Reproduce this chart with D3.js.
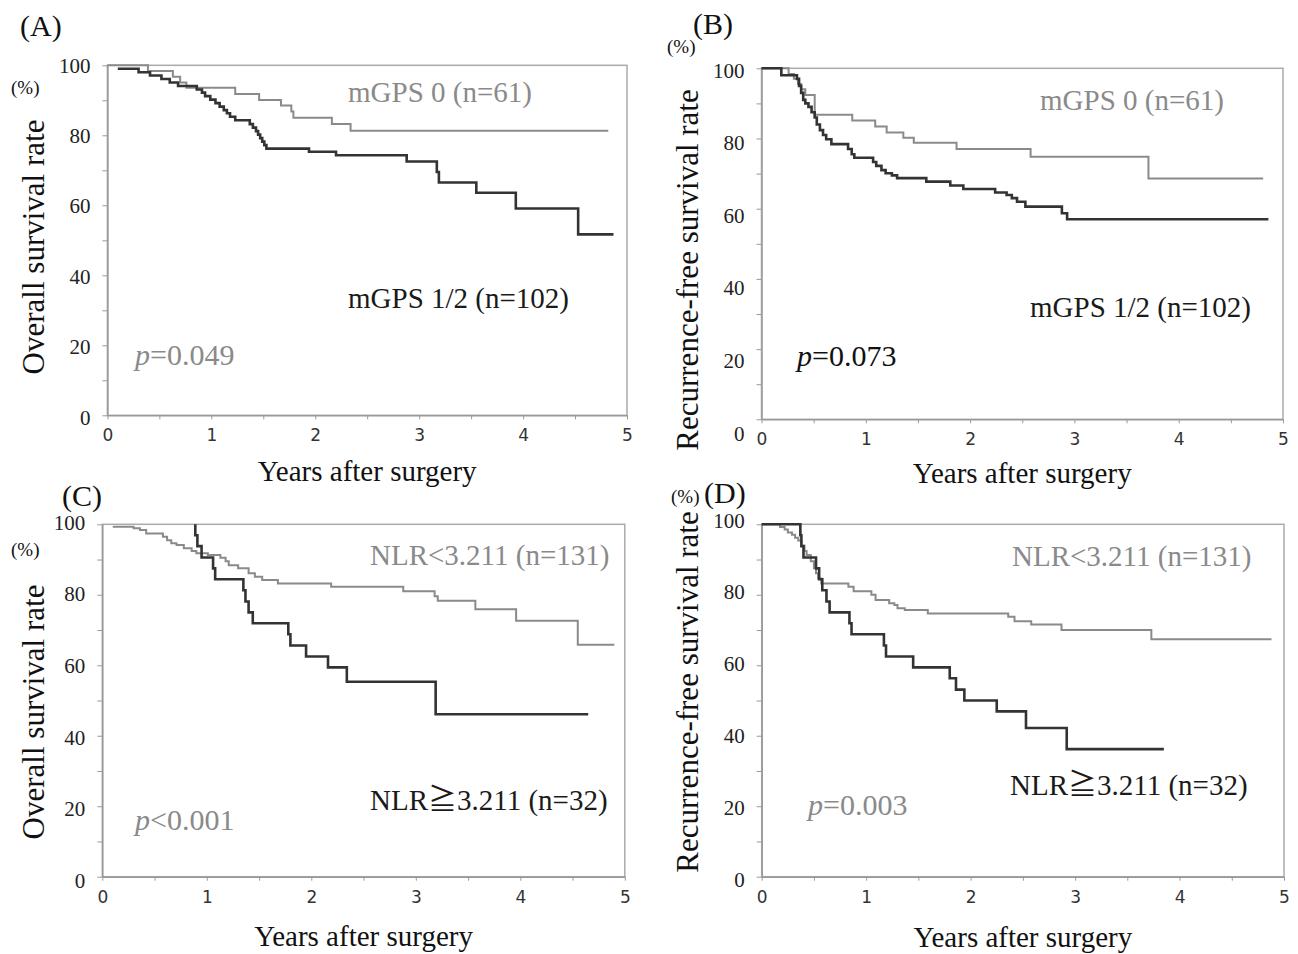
<!DOCTYPE html>
<html>
<head lang="en">
    <meta charset="UTF-8">
    <title></title>
    <script src="https://cdn.jsdelivr.net/npm/d3@7"></script>
    <style>
        *{
            margin: 0;
            padding: 0;
        }
        body{background:#fff;}
    </style>
</head>
<body>
<div id="mychart" style="width:1298px;height:954px;position:fixed;left:0;top:0"></div>
<script>
    // (A) overall survival, mGPS 0 / mGPS 1/2
    var aTime0=[0,0.39,0.63,0.70,0.76,1.23,1.46,1.67,1.77,1.79,2.16,2.34];
    var aSurv0=[100,98.4,96.7,95.1,93.6,91.8,90.1,88.5,86.8,85.0,83.2,81.3];
    var aTime1=[0.10,0.30,0.41,0.52,0.60,0.68,0.86,0.91,0.94,0.99,1.04,1.08,1.12,1.15,1.18,1.23,1.37,1.40,1.43,1.45,1.47,1.49,1.51,1.53,1.94,2.20,2.88,3.17,3.19,3.55,3.93,4.53];
    var aSurv1=[99.0,98.0,97.1,96.1,95.1,94.1,93.1,92.2,91.2,90.2,89.2,88.2,87.2,86.3,85.3,84.3,83.2,82.2,81.2,80.2,79.2,78.2,77.2,76.2,75.3,74.3,72.5,69.5,66.5,63.6,59.1,51.7];
    var aEnd=[4.82,4.87];
    // (B) recurrence-free survival, mGPS
    var bTime0=[0,0.26,0.31,0.35,0.38,0.42,0.51,0.87,1.09,1.20,1.36,1.46,1.87,2.58,3.71];
    var bSurv0=[100,98.4,97.0,95.5,94.0,92.4,86.8,85.1,83.4,81.7,80.2,78.8,77.0,74.8,68.6];
    var bTime1=[0,0.19,0.34,0.36,0.38,0.40,0.42,0.45,0.48,0.51,0.53,0.56,0.59,0.62,0.67,0.83,0.865,0.89,1.07,1.10,1.15,1.19,1.25,1.30,1.58,1.81,1.935,2.24,2.35,2.40,2.45,2.53,2.88,2.93];
    var bSurv1=[100,98.0,97.0,95.0,93.0,91.0,90.0,89.0,87.5,86.0,84.0,82.4,81.0,79.8,78.4,77.0,75.5,74.5,73.3,72.2,71.0,70.1,69.5,68.7,67.7,66.6,65.6,64.6,63.9,63.0,62.0,60.6,58.7,57.0];
    var bEnd=[4.81,4.86];
    // (C) overall survival, NLR
    var cTime0=[0.10,0.30,0.36,0.42,0.58,0.62,0.66,0.71,0.78,0.855,0.90,1.01,1.13,1.18,1.21,1.30,1.40,1.46,1.53,1.68,2.19,2.88,3.18,3.21,3.57,3.96,4.55];
    var cSurv0=[99.3,98.9,98.4,97.4,96.5,95.5,94.6,94.1,93.2,92.4,91.8,91.3,90.5,89.5,88.4,87.5,86.1,85.1,84.2,83.2,82.3,81.0,79.6,78.3,75.9,72.6,65.8];
    var cTime1=[0.89,0.89,0.91,0.95,1.06,1.08,1.35,1.37,1.40,1.44,1.78,1.80,1.95,2.16,2.34,3.19];
    var cSurv1=[100,96.9,93.8,90.6,87.5,84.4,81.3,78.1,75.0,71.9,68.8,65.6,62.5,59.4,55.3,46.1];
    var cEnd=[4.90,4.65];
    // (D) recurrence-free survival, NLR
    var dTime0=[0,0.175,0.22,0.25,0.29,0.32,0.35,0.38,0.41,0.43,0.47,0.50,0.52,0.54,0.57,0.83,0.88,1.05,1.09,1.22,1.27,1.30,1.37,1.59,2.36,2.42,2.58,2.87,3.73];
    var dSurv0=[100,99.2,98.5,97.7,97.0,96.2,95.4,93.9,92.4,91.3,89.5,87.5,86.1,84.6,83.2,82.3,81.0,80.0,78.5,77.6,77.1,76.2,75.7,74.7,73.8,72.5,71.6,70.0,67.4];
    var dTime1=[0,0.37,0.38,0.40,0.52,0.55,0.58,0.62,0.65,0.84,0.86,1.17,1.19,1.45,1.80,1.86,1.94,2.25,2.53,2.92];
    var dSurv1=[100,96.9,93.8,90.6,87.5,84.4,81.3,78.1,75.0,71.9,68.8,65.6,62.5,59.4,56.3,53.1,50.0,46.9,42.2,36.2];
    var dEnd=[4.88,3.85];

    var xTickLabels=[0,1,2,3,4,5];
    var yTickLabels=[0,20,40,60,80,100];

    var SERIF="'Liberation Serif','Times New Roman',serif";
    var GRAY="#8a8a8a", DARK="#333";

    var panels=[
        {tag:"(A)",tagX:20,tagY:36,pctX:11,pctY:94,
         x0:107.4,x5:627,y100:65.3,y0:415.3,yShift:[0,0.02],
         ylab:"Overall survival rate",ylabX:33,ylabY:247,xlabY:481,
         t0:aTime0,s0:aSurv0,t1:aTime1,s1:aSurv1,end:aEnd,
         lab0:"mGPS 0 (n=61)",lab0X:348,lab0Y:102,
         lab1:"mGPS 1/2 (n=102)",lab1X:348,lab1Y:308,
         p:"=0.049",pX:135,pY:365,pColor:GRAY},
        {tag:"(B)",tagX:693,tagY:34,pctX:667,pctY:53,
         x0:761.5,x5:1283,y100:68.3,y0:419.3,yShift:[2,0.12],
         ylab:"Recurrence-free survival rate",ylabX:687,ylabY:270,xlabY:483,
         t0:bTime0,s0:bSurv0,t1:bTime1,s1:bSurv1,end:bEnd,
         lab0:"mGPS 0 (n=61)",lab0X:1040,lab0Y:110,
         lab1:"mGPS 1/2 (n=102)",lab1X:1030,lab1Y:317,
         p:"=0.073",pX:797,pY:366,pColor:"#111"},
        {tag:"(C)",tagX:62,tagY:506,pctX:11,pctY:556,
         x0:102.3,x5:624.8,y100:524.3,y0:876.7,yShift:[-2,0.06],
         ylab:"Overall survival rate",ylabX:33,ylabY:712,xlabY:946,
         t0:cTime0,s0:cSurv0,t1:cTime1,s1:cSurv1,end:cEnd,
         lab0:"NLR<3.211 (n=131)",lab0X:370,lab0Y:565,
         lab1:"NLR\u22673.211 (n=32)",lab1X:370,lab1Y:810,
         p:"<0.001",pX:135,pY:830,pColor:GRAY},
        {tag:"(D)",tagX:704,tagY:503,pctX:671,pctY:503,
         x0:761.7,x5:1284,y100:524.3,y0:876.7,yShift:[-4,0.07],
         ylab:"Recurrence-free survival rate",ylabX:687,ylabY:692,xlabY:947,
         t0:dTime0,s0:dSurv0,t1:dTime1,s1:dSurv1,end:dEnd,
         lab0:"NLR<3.211 (n=131)",lab0X:1012,lab0Y:566,
         lab1:"NLR\u22673.211 (n=32)",lab1X:1010,lab1Y:795,
         p:"=0.003",pX:808,pY:815,pColor:GRAY}
    ];

    var _svg=d3.select("#mychart").append("svg")
            .attr("width",1298).attr("height",954)
            .style("background","#fff");

    panels.forEach(function(p){drawPanel(p);});

    function drawPanel(p){
        var g=_svg.append("g");
        var x=d3.scaleLinear().domain([0,5]).range([p.x0,p.x5]);
        var y=d3.scaleLinear().domain([0,100]).range([p.y0,p.y100]);

        //frame
        g.append("rect")
                .attr("x",p.x0).attr("y",p.y100)
                .attr("width",p.x5-p.x0).attr("height",p.y0-p.y100)
                .attr("fill","none").attr("stroke","#aaa").attr("stroke-width",1.5);

        //y axis, ticks every 10, labels every 20
        var yAxis=d3.axisLeft(y)
                .tickValues(d3.range(0,101,10))
                .tickSize(5).tickSizeOuter(0).tickPadding(12)
                .tickFormat(function(d){return yTickLabels.indexOf(d)>=0?d:"";});
        var gy=g.append("g").attr("transform","translate("+p.x0+",0)").call(yAxis);
        gy.select(".domain").attr("stroke","#999").attr("stroke-width",1.5);
        gy.selectAll("line").attr("stroke","#999");
        gy.selectAll("text").attr("fill","#222")
                .attr("transform",function(d){return "translate(0,"+(p.yShift[0]+p.yShift[1]*(100-d))+")";})
                .style("font-family",SERIF).style("font-size","21px");

        //x axis, ticks every half year
        var xAxis=d3.axisBottom(x)
                .tickValues(d3.range(0,5.01,0.5))
                .tickSize(4).tickSizeOuter(0).tickPadding(10)
                .tickFormat(function(d){return xTickLabels.indexOf(d)>=0?d:"";});
        var gx=g.append("g").attr("transform","translate(0,"+p.y0+")").call(xAxis);
        gx.select(".domain").attr("stroke","#999").attr("stroke-width",1.5);
        gx.selectAll("line").attr("stroke","#999");
        gx.selectAll("text").attr("fill","#333")
                .style("font-family","'DejaVu Sans',Verdana,sans-serif").style("font-size","17px");

        //step curves
        var line=d3.line()
                .x(function(d){return x(d[0]);})
                .y(function(d){return y(d[1]);})
                .curve(d3.curveStepAfter);
        var pts0=d3.zip(p.t0,p.s0); pts0.push([p.end[0],p.s0[p.s0.length-1]]);
        var pts1=d3.zip(p.t1,p.s1); pts1.push([p.end[1],p.s1[p.s1.length-1]]);
        g.append("path").attr("d",line(pts0))
                .attr("fill","none").attr("stroke",GRAY).attr("stroke-width",2);
        g.append("path").attr("d",line(pts1))
                .attr("fill","none").attr("stroke",DARK).attr("stroke-width",2.6);

        //texts
        g.append("text").attr("x",p.tagX).attr("y",p.tagY).text(p.tag)
                .style("font-family",SERIF).style("font-size","30px").attr("fill","#111");
        g.append("text").attr("x",p.pctX).attr("y",p.pctY).text("(%)")
                .style("font-family",SERIF).style("font-size","19px").attr("fill","#111");
        g.append("text")
                .attr("transform","translate("+p.ylabX+","+p.ylabY+") rotate(-90)")
                .attr("text-anchor","middle").attr("dy","0.35em").text(p.ylab)
                .style("font-family",SERIF).style("font-size","31px").attr("fill","#111");
        g.append("text").attr("x",(p.x0+p.x5)/2).attr("y",p.xlabY)
                .attr("text-anchor","middle").text("Years after surgery")
                .style("font-family",SERIF).style("font-size","29px").attr("fill","#111");
        g.append("text").attr("x",p.lab0X).attr("y",p.lab0Y).text(p.lab0)
                .style("font-family",SERIF+",'Noto Sans CJK JP'").style("font-size","29px").attr("fill",GRAY);
        g.append("text").attr("x",p.lab1X).attr("y",p.lab1Y).text(p.lab1)
                .style("font-family",SERIF+",'Noto Sans CJK JP'").style("font-size","29px").attr("fill","#1a1a1a");
        var pt=g.append("text").attr("x",p.pX).attr("y",p.pY)
                .style("font-family",SERIF).style("font-size","30px").attr("fill",p.pColor);
        pt.append("tspan").style("font-style","italic").text("p");
        pt.append("tspan").text(p.p);
    }
</script>
</body>
</html>
